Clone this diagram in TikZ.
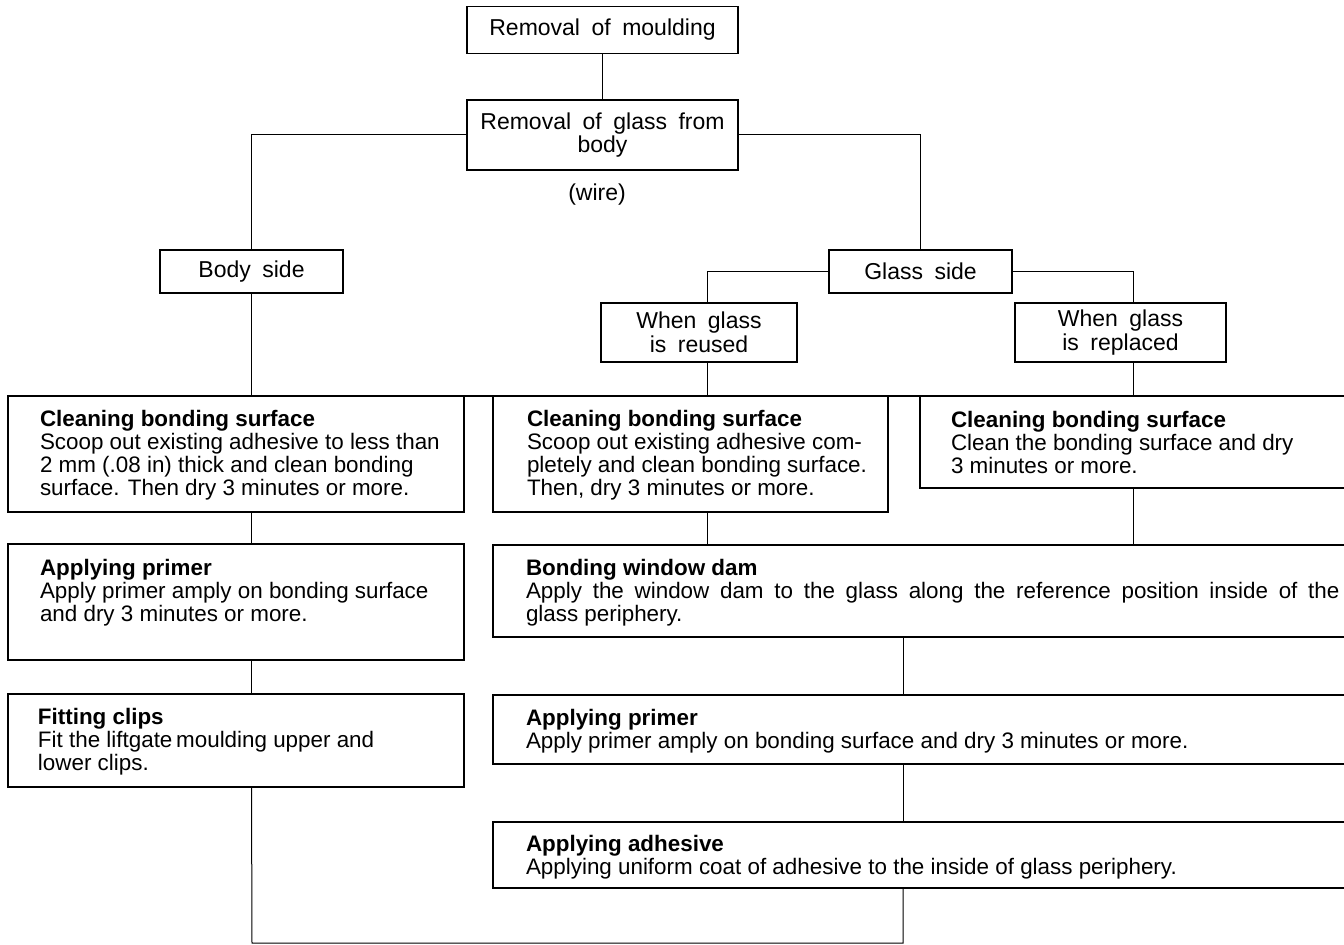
\documentclass[tikz,border=0pt]{standalone}
\usepackage{fontspec}
\setmainfont{Liberation Sans}
\usetikzlibrary{positioning,calc}
\newcommand{\wg}{\hspace{0.5em}}

\begin{document}
\begin{tikzpicture}[x=0.5pt,y=-0.5pt,
  every node/.style={inner sep=0pt, outer sep=0pt},
  headbox/.style={draw, line width=0.6pt, align=center,
    font=\fontsize{11.5}{11.8}\selectfont},
  bigbox/.style={draw, line width=0.9pt, anchor=north west},
  txt/.style={anchor=north west, align=left, font=\fontsize{11.2}{11.5}\selectfont},
  link/.style={line width=0.5pt}]
  \useasboundingbox[fill=white] (0,0) rectangle (1344,945);

  % upper tree
  \node[headbox, minimum width=135.5pt, minimum height=23.5pt] (mould) at (602.5,30) {Removal\wg of\wg moulding};
  \node[headbox, minimum width=135.5pt, minimum height=35pt] (rglass) at (602.5,135) {Removal\wg of\wg glass\wg from\\body};
  \node[font=\fontsize{11.5}{11.8}\selectfont] (wire) at (597,195) {(wire)};
  \node[headbox, minimum width=91.5pt, minimum height=21.5pt] (body) at (251.5,271.5) {Body\wg side};
  \node[headbox, minimum width=91.5pt, minimum height=21.5pt] (gside) at (920.5,271.5) {Glass\wg side};
  \node[headbox, minimum width=98pt, minimum height=29.5pt] (reuse) at (699,332.5) {When\wg glass\\is\wg reused};
  \node[headbox, minimum width=105.5pt, minimum height=29.5pt] (repl) at (1120.5,332.5) {When\wg glass\\is\wg replaced};

  % step boxes
  \node[bigbox, minimum width=228pt, minimum height=58pt] (cbL) at (8,396) {};
  \node[bigbox, minimum width=197.5pt, minimum height=58pt] (cbM) at (493,396) {};
  \node[bigbox, minimum width=216pt, minimum height=46pt] (cbR) at (920,396) {};
  \node[bigbox, minimum width=228pt, minimum height=58pt] (primL) at (8,544) {};
  \node[bigbox, minimum width=429.5pt, minimum height=46pt] (dam) at (493,545) {};
  \node[bigbox, minimum width=228pt, minimum height=46.5pt] (fit) at (8,694) {};
  \node[bigbox, minimum width=429.5pt, minimum height=34.5pt] (primR) at (493,695) {};
  \node[bigbox, minimum width=429.5pt, minimum height=33pt] (adh) at (493,822) {};

  \node[txt] (cbLt) at (40,410) {\textbf{Cleaning bonding surface}\\Scoop out existing adhesive to less than\\2 mm (.08 in) thick and clean bonding\\surface. Then dry 3 minutes or more.};
  \node[txt] (cbMt) at (527,410) {\textbf{Cleaning bonding surface}\\Scoop out existing adhesive com-\\pletely and clean bonding surface.\\Then, dry 3 minutes or more.};
  \node[txt] (cbRt) at (951,411) {\textbf{Cleaning bonding surface}\\Clean the bonding surface and dry\\3 minutes or more.};
  \node[txt] (primLt) at (40,559) {\textbf{Applying primer}\\Apply primer amply on bonding surface\\and dry 3 minutes or more.};
  \node[txt] (damt) at (526,559) {\textbf{Bonding window dam}\\{\spaceskip=0.48em\relax Apply the window dam to the glass along the reference position inside of the}\\glass periphery.};
  \node[txt] (fitt) at (38,708) {\textbf{Fitting clips}\\Fit the liftgate\,moulding upper and\\lower clips.};
  \node[txt] (primRt) at (526,709) {\textbf{Applying primer}\\Apply primer amply on bonding surface and dry 3 minutes or more.};
  \node[txt] (adht) at (526,835) {\textbf{Applying adhesive}\\Applying uniform coat of adhesive to the inside of glass periphery.};

  \coordinate (rx) at (707,0);
  \coordinate (px) at (1133,0);
  \coordinate (spine) at (903,943);
  \coordinate (foot) at (252,943);

  % connectors
  \draw[link] (mould) -- (rglass);
  \draw[link] (rglass.west) -| (body.north);
  \draw[link] (rglass.east) -| (gside.north);
  \draw[link] (gside.west) -| (reuse.north -| rx);
  \draw[link] (gside.east) -| (repl.north -| px);
  \draw[link] (body.south) -- (body.south |- cbL.north);
  \draw[link] (reuse.south -| rx) -- (cbM.north -| rx);
  \draw[link] (repl.south -| px) -- (cbR.north -| px);
  \draw[line width=0.9pt] (cbL.north west) -- (cbR.north east);
  \draw[link] (cbL.south -| body) -- (primL.north -| body);
  \draw[link] (primL.south -| body) -- (fit.north -| body);
  \draw[link] (cbM.south -| rx) -- (dam.north -| rx);
  \draw[link] (cbR.south -| px) -- (dam.north -| px);
  \draw[link] (dam.south -| spine) -- (primR.north -| spine);
  \draw[link] (primR.south -| spine) -- (adh.north -| spine);
  \draw[link] (fit.south -| body) -- (foot) -- (spine) -- (adh.south -| spine);
\end{tikzpicture}
\end{document}
